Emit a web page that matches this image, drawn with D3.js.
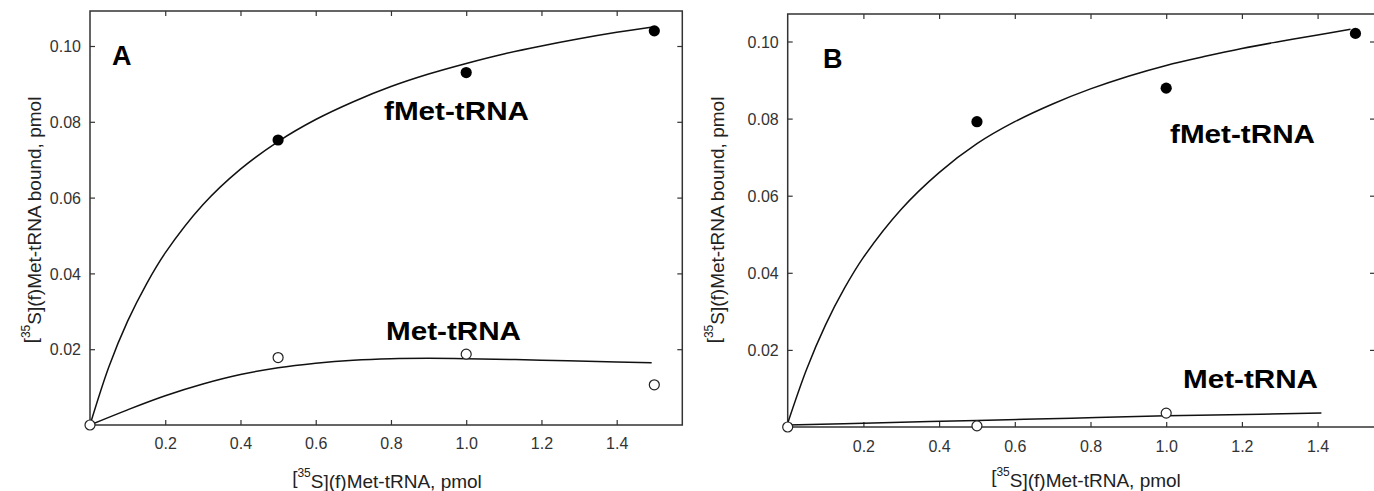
<!DOCTYPE html>
<html><head><meta charset="utf-8">
<script src="https://cdn.jsdelivr.net/npm/d3@7"></script>
<style>
html,body{margin:0;padding:0;background:#fff;}
svg{display:block;}
text{font-family:"Liberation Sans",Arial,sans-serif;}
</style></head>
<body>
<svg id="chart" width="1374" height="491"></svg>
<script>
// ---- data ----
const xTicks = [0.2, 0.4, 0.6, 0.8, 1.0, 1.2, 1.4];
const yTicks = [0.02, 0.04, 0.06, 0.08, 0.10];
const yTickLabels = ["0.02", "0.04", "0.06", "0.08", "0.10"];
const xTickLabels = ["0.2", "0.4", "0.6", "0.8", "1.0", "1.2", "1.4"];

// Panel A
const aFmetX = [0.5, 1.0, 1.5];
const aFmetY = [0.0752, 0.0930, 0.1040];
const aMetX = [0, 0.5, 1.0, 1.5];
const aMetY = [0, 0.0178, 0.0187, 0.0106];
const aFmetFitX = [0, 0.05, 0.1, 0.15, 0.2, 0.3, 0.4, 0.5, 0.6, 0.7, 0.8, 0.9, 1.0, 1.1, 1.2, 1.3, 1.4, 1.5];
const aFmetFitY = [0, 0.0153, 0.0274, 0.0372, 0.0454, 0.0581, 0.0675, 0.0748, 0.0806, 0.0853, 0.0893, 0.0926, 0.0954, 0.0979, 0.1000, 0.1019, 0.1036, 0.1051];
const aMetFitX = [0, 0.1, 0.2, 0.3, 0.4, 0.5, 0.6, 0.7, 0.8, 0.9, 1.0, 1.2, 1.4, 1.493];
const aMetFitY = [0, 0.0040, 0.0077, 0.0108, 0.0133, 0.0151, 0.0163, 0.0171, 0.0175, 0.0176, 0.0175, 0.0171, 0.0166, 0.0164];

// Panel B
const bFmetX = [0.5, 1.0, 1.5];
const bFmetY = [0.0792, 0.0879, 0.1021];
const bMetX = [0, 0.5, 1.0];
const bMetY = [0, 0.0003, 0.0036];
const bFmetFitX = [0, 0.05, 0.1, 0.15, 0.2, 0.3, 0.4, 0.5, 0.6, 0.7, 0.8, 0.9, 1.0, 1.1, 1.2, 1.3, 1.4, 1.487];
const bFmetFitY = [0.0010, 0.0150, 0.0265, 0.0360, 0.0440, 0.0565, 0.0660, 0.0735, 0.0792, 0.0838, 0.0877, 0.0910, 0.0938, 0.0961, 0.0982, 0.1000, 0.1017, 0.1032];
const bMetFitX = [0, 0.25, 0.5, 0.75, 1.0, 1.25, 1.41];
const bMetFitY = [0.0005, 0.0011, 0.0017, 0.0023, 0.0029, 0.0033, 0.0036];

// ---- layout ----
const panels = [
  { id: "A", left: 90, right: 682.3, top: 11, bottom: 425, xMax: 1.5744, yPerUnit: 3790,
    fmetX: aFmetX, fmetY: aFmetY, metX: aMetX, metY: aMetY,
    fFitX: aFmetFitX, fFitY: aFmetFitY, mFitX: aMetFitX, mFitY: aMetFitY,
    letter: [112, 65], fLab: [384, 120], mLab: [386, 340],
    yTitle: [30, 220], xTitle: [387, 484], xTickY: 449 },
  { id: "B", left: 787.7, right: 1375, top: 14, bottom: 427, xMax: (1375 - 787.7) / 378.5, yPerUnit: 3855,
    fmetX: bFmetX, fmetY: bFmetY, metX: bMetX, metY: bMetY,
    fFitX: bFmetFitX, fFitY: bFmetFitY, mFitX: bMetFitX, mFitY: bMetFitY,
    letter: [823, 68], fLab: [1170, 143], mLab: [1183, 388],
    yTitle: [713, 220], xTitle: [1086, 483], xTickY: 451.5 }
];

const svg = d3.select("#chart");
const tickLen = 5;
const tickFont = 16;

panels.forEach(p => {
  const x = d3.scaleLinear().domain([0, p.xMax]).range([p.left, p.right]);
  const yMax = (p.bottom - p.top) / p.yPerUnit;
  const y = d3.scaleLinear().domain([0, yMax]).range([p.bottom, p.top]);
  const g = svg.append("g");

  const bottomAx = d3.axisBottom(x).tickValues(xTicks).tickSizeInner(-tickLen).tickSizeOuter(0)
      .tickFormat((d, i) => xTickLabels[i]).tickPadding(p.xTickY - p.bottom - 0.71 * tickFont);
  const topAx = d3.axisTop(x).tickValues(xTicks).tickSizeInner(-tickLen).tickSizeOuter(0).tickFormat("");
  const leftAx = d3.axisLeft(y).tickValues(yTicks).tickSizeInner(-tickLen).tickSizeOuter(0)
      .tickFormat((d, i) => yTickLabels[i]).tickPadding(9);
  const rightAx = d3.axisRight(y).tickValues(yTicks).tickSizeInner(-tickLen).tickSizeOuter(0).tickFormat("");

  const gb = g.append("g").attr("transform", `translate(0,${p.bottom})`).call(bottomAx);
  const gt = g.append("g").attr("transform", `translate(0,${p.top})`).call(topAx);
  const gl = g.append("g").attr("transform", `translate(${p.left},0)`).call(leftAx);
  const gr = g.append("g").attr("transform", `translate(${p.right},0)`).call(rightAx);
  [gb, gt, gl, gr].forEach(a => {
    a.select(".domain").remove();
    a.selectAll(".tick line").attr("stroke", "#333").attr("stroke-width", 1.2);
    a.selectAll(".tick text").attr("font-size", tickFont).attr("fill", "#333")
      .attr("font-family", '"Liberation Sans",Arial,sans-serif');
  });
  gl.selectAll(".tick text").attr("dy", "0.36em");

  // frame
  g.append("rect").attr("x", p.left).attr("y", p.top)
    .attr("width", p.right - p.left).attr("height", p.bottom - p.top)
    .attr("fill", "none").attr("stroke", "#333").attr("stroke-width", 1.5);

  // fitted curves
  const line = d3.line().x(d => x(d[0])).y(d => y(d[1])).curve(d3.curveCatmullRom.alpha(0.5));
  g.append("path").datum(d3.zip(p.fFitX, p.fFitY)).attr("d", line)
    .attr("fill", "none").attr("stroke", "#111").attr("stroke-width", 1.5);
  g.append("path").datum(d3.zip(p.mFitX, p.mFitY)).attr("d", line)
    .attr("fill", "none").attr("stroke", "#111").attr("stroke-width", 1.5);

  // points
  g.selectAll(".fp").data(d3.zip(p.fmetX, p.fmetY)).join("circle")
    .attr("cx", d => x(d[0])).attr("cy", d => y(d[1])).attr("r", 5.6).attr("fill", "#000");
  g.selectAll(".op").data(d3.zip(p.metX, p.metY)).join("circle")
    .attr("cx", d => x(d[0])).attr("cy", d => y(d[1])).attr("r", 5)
    .attr("fill", "#fff").attr("stroke", "#222").attr("stroke-width", 1.2);

  // panel letter
  g.append("text").attr("x", p.letter[0]).attr("y", p.letter[1]).text(p.id)
    .attr("font-size", 27).attr("font-weight", "bold").attr("fill", "#000");
  // series labels
  g.append("text").attr("x", p.fLab[0]).attr("y", p.fLab[1]).text("fMet-tRNA")
    .attr("font-size", 26).attr("font-weight", "bold").attr("fill", "#000")
    .attr("textLength", 145).attr("lengthAdjust", "spacingAndGlyphs");
  g.append("text").attr("x", p.mLab[0]).attr("y", p.mLab[1]).text("Met-tRNA")
    .attr("font-size", 26).attr("font-weight", "bold").attr("fill", "#000")
    .attr("textLength", 135).attr("lengthAdjust", "spacingAndGlyphs");

  // axis titles
  const yt = g.append("text").attr("transform", `translate(${p.yTitle[0]},${p.yTitle[1]}) rotate(-90)`)
    .attr("text-anchor", "middle").attr("dy", "0.35em").attr("font-size", 19).attr("fill", "#222");
  yt.append("tspan").text("[");
  yt.append("tspan").text("35").attr("font-size", 12).attr("dy", "-0.55em");
  yt.append("tspan").text("S](f)Met-tRNA bound, pmol").attr("dy", "0.55em");

  const xt = g.append("text").attr("x", p.xTitle[0]).attr("y", p.xTitle[1])
    .attr("text-anchor", "middle").attr("font-size", 19).attr("fill", "#222");
  xt.append("tspan").text("[");
  xt.append("tspan").text("35").attr("font-size", 12).attr("dy", "-0.55em");
  xt.append("tspan").text("S](f)Met-tRNA, pmol").attr("dy", "0.55em");
});
</script>
</body></html>
